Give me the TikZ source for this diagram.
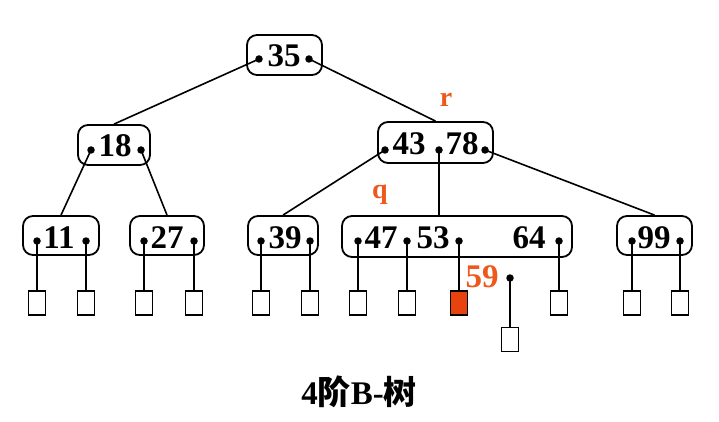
\documentclass[tikz,border=0pt]{standalone}
\usepackage{fontspec}
\setmainfont{Liberation Serif}
\newfontfamily\cjk{Noto Sans CJK SC}
\definecolor{hilite}{RGB}{238,88,28}
\definecolor{hfill}{RGB}{232,66,14}
\begin{document}
\begin{tikzpicture}[x=1pt,y=-1pt,
  keybox/.style={draw, rounded corners=10pt, line width=1.8pt, inner sep=0pt},
  pdot/.style={circle, fill, inner sep=0pt, minimum size=7.5pt},
  num/.style={font=\fontsize{33}{33}\selectfont\bfseries, inner sep=0pt, anchor=base},
  leaf/.style={draw, line width=1.5pt, minimum width=17pt, minimum height=24pt, inner sep=0pt},
  link/.style={line width=1.6pt},
  lbl/.style={text=hilite, font=\fontsize{28}{28}\selectfont\bfseries, inner sep=0pt, anchor=base}]
\fill[white] (0,0) rectangle (719,422);
\useasboundingbox (0,0) rectangle (719,422);

% key boxes
\node[keybox, minimum width=75pt, minimum height=40pt] (n35) at (284.5,55) {};
\node[keybox, minimum width=72pt, minimum height=40pt] (n18) at (114,145) {};
\node[keybox, minimum width=115pt, minimum height=41pt] (nr) at (435.5,142.5) {};
\node[keybox, minimum width=76pt, minimum height=39pt] (n11) at (61,235.5) {};
\node[keybox, minimum width=74pt, minimum height=39pt] (n27) at (167,235.5) {};
\node[keybox, minimum width=70pt, minimum height=39pt] (n39) at (283,235.5) {};
\node[keybox, minimum width=230pt, minimum height=41pt] (nq) at (457,236.5) {};
\node[keybox, minimum width=75pt, minimum height=39pt] (n99) at (654.5,235.5) {};

% keys
\node[num] (t35) at (284,67) {35};
\node[num] (t18) at (115,157) {18};
\node[num] (t43) at (409,155) {43};
\node[num] (t78) at (462,155) {78};
\node[num] (t11) at (59,248) {11};
\node[num] (t27) at (167,248) {27};
\node[num] (t39) at (285,248) {39};
\node[num] (t47) at (381,248) {47};
\node[num] (t53) at (433,248) {53};
\node[num] (t64) at (529,248) {64};
\node[num] (t99) at (654,248) {99};
\node[num, text=hilite] (t59) at (482,287) {59};

% pointer dots
\node[pdot] (a1) at (259,59) {};
\node[pdot] (a2) at (309,59) {};
\node[pdot] (b1) at (91,150) {};
\node[pdot] (b2) at (141,150) {};
\node[pdot] (r1) at (385,150) {};
\node[pdot] (r2) at (439,150) {};
\node[pdot] (r3) at (485,150) {};
\node[pdot] (c1) at (37,241) {};
\node[pdot] (c2) at (86,241) {};
\node[pdot] (d1) at (144,241) {};
\node[pdot] (d2) at (194,241) {};
\node[pdot] (e1) at (261,241) {};
\node[pdot] (e2) at (310,241) {};
\node[pdot] (q1) at (358,241) {};
\node[pdot] (q2) at (407,241) {};
\node[pdot] (q3) at (459,241) {};
\node[pdot] (q4) at (559,241) {};
\node[pdot] (f1) at (632,241) {};
\node[pdot] (f2) at (680,241) {};
\node[pdot] (s1) at (510,278) {};

% leaves
\foreach \nm/\x in {lc1/37, lc2/86, ld1/144, ld2/194, le1/261, le2/310, lq1/358, lq2/407, lq4/559, lf1/632, lf2/680}
  \node[leaf] (\nm) at (\x,303) {};
\node[leaf, fill=hfill] (lq3) at (459,303) {};
\node[leaf] (ls1) at (510,339.5) {};

% tree connectors
\draw[link] (a1.center) -- (n18.north);
\draw[link] (a2.center) -- (nr.north);
\draw[link] (b1.center) -- (n11.north);
\draw[link] (b2.center) -- (n27.north);
\draw[link] (r1.center) -- (n39.north);
\draw[link] (r2.center) -- (nq.north -| r2);
\draw[link] (r3.center) -- (n99.north);

% leaf connectors
\foreach \d/\l in {c1/lc1, c2/lc2, d1/ld1, d2/ld2, e1/le1, e2/le2, q1/lq1, q2/lq2, q3/lq3, q4/lq4, f1/lf1, f2/lf2, s1/ls1}
  \draw[link] (\d.center) -- (\l.north);

% labels
\node[lbl] (lr) at (446,107) {r};
\node[lbl] (lqq) at (380,198) {q};

% title
\node[inner sep=0pt, anchor=base] (title) at (359,404) {\fontsize{33}{33}\selectfont\bfseries 4{\cjk 阶}B-{\cjk 树}};
\end{tikzpicture}
\end{document}
